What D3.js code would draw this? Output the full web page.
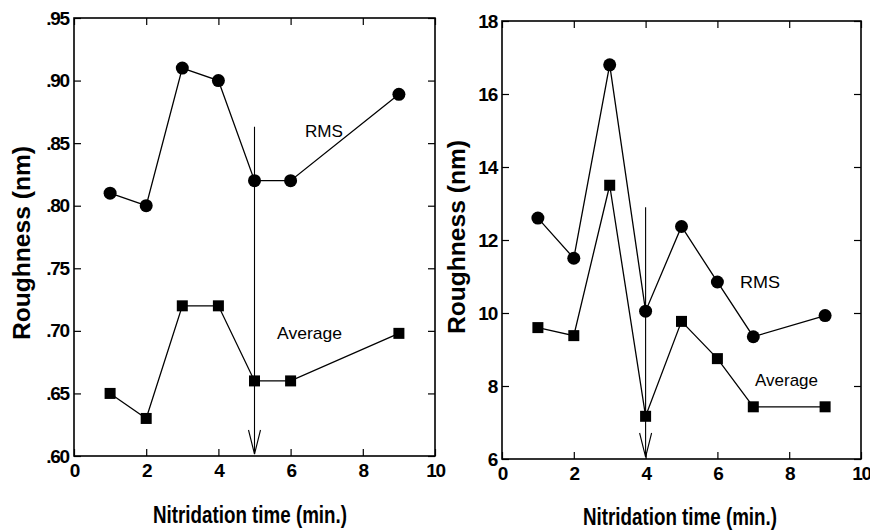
<!DOCTYPE html>
<html>
<head>
<meta charset="utf-8">
<script src="https://cdnjs.cloudflare.com/ajax/libs/d3/7.8.5/d3.min.js"></script>
<style>
  body { margin: 0; background: #fff; }
  svg { display: block; }
  .tick text { font-family: "Liberation Sans", Arial, sans-serif; font-weight: bold; font-size: 19px; letter-spacing: -1.2px; fill: #000; }
  .tick line { stroke: #000; stroke-width: 1.2; }
</style>
</head>
<body>
<div id="chart"></div>
<script>
// left panel (nitridation time vs roughness, small scale)
var leftTimeRms = [1, 2, 3, 4, 5, 6, 9];
var leftRms = [0.81, 0.80, 0.91, 0.90, 0.82, 0.82, 0.889];
var leftTimeAvg = [1, 2, 3, 4, 5, 6, 9];
var leftAvg = [0.65, 0.63, 0.72, 0.72, 0.66, 0.66, 0.698];
var leftYTicks = [0.60, 0.65, 0.70, 0.75, 0.80, 0.85, 0.90, 0.95];
var leftArrow = {x: 5, from: 0.863, to: 0.60};

// right panel
var rightTimeRms = [1, 2, 3, 4, 5, 6, 7, 9];
var rightRms = [12.6, 11.5, 16.8, 10.05, 12.37, 10.85, 9.35, 9.93];
var rightTimeAvg = [1, 2, 3, 4, 5, 6, 7, 9];
var rightAvg = [9.6, 9.38, 13.5, 7.17, 9.77, 8.75, 7.43, 7.43];
var rightYTicks = [6, 8, 10, 12, 14, 16, 18];
var rightArrow = {x: 4, from: 12.9, to: 6};

var xTicks = [0, 2, 4, 6, 8, 10];

var svg = d3.select("#chart").append("svg")
  .attr("width", 870)
  .attr("height", 532);

function panel(cfg) {
  var x = d3.scaleLinear().domain([0, 10]).range([cfg.left, cfg.right]),
      y = d3.scaleLinear().domain(cfg.yDomain).range([cfg.bottom, cfg.top]),
      g = svg.append("g");

  var tk = 7;
  g.append("g")
    .attr("transform", "translate(0," + cfg.bottom + ")")
    .call(d3.axisBottom(x).tickValues(xTicks).tickSize(-tk).tickPadding(8).tickFormat(d3.format("d")))
    .call(function(a) { a.select(".domain").remove(); });
  g.append("g")
    .attr("transform", "translate(0," + cfg.top + ")")
    .call(d3.axisTop(x).tickValues(xTicks).tickSize(-tk).tickFormat(""))
    .call(function(a) { a.select(".domain").remove(); });
  g.append("g")
    .attr("transform", "translate(" + cfg.left + ",0)")
    .call(d3.axisLeft(y).tickValues(cfg.yTicks).tickSize(-tk).tickPadding(cfg.labelPad).tickFormat(cfg.fmt))
    .call(function(a) { a.select(".domain").remove(); });
  g.append("g")
    .attr("transform", "translate(" + cfg.right + ",0)")
    .call(d3.axisRight(y).tickValues(cfg.yTicks).tickSize(-tk).tickFormat(""))
    .call(function(a) { a.select(".domain").remove(); });

  g.append("rect")
    .attr("x", cfg.left).attr("y", cfg.top)
    .attr("width", cfg.right - cfg.left).attr("height", cfg.bottom - cfg.top)
    .attr("fill", "none").attr("stroke", "#000").attr("stroke-width", 1.6);

  // arrow marking the transition time
  var ax = x(cfg.arrow.x), ay0 = y(cfg.arrow.from), ay1 = y(cfg.arrow.to) - 2;
  g.append("line")
    .attr("x1", ax).attr("x2", ax).attr("y1", ay0).attr("y2", ay1)
    .attr("stroke", "#000").attr("stroke-width", 1.1);
  g.append("path")
    .attr("d", "M" + (ax - 6) + "," + (ay1 - 24) + "L" + ax + "," + ay1 + "L" + (ax + 6) + "," + (ay1 - 24))
    .attr("fill", "none").attr("stroke", "#000").attr("stroke-width", 1.1);

  var line = d3.line().x(function(d) { return x(d[0]); }).y(function(d) { return y(d[1]); });
  var rms = d3.zip(cfg.rmsX, cfg.rms), avg = d3.zip(cfg.avgX, cfg.avg);

  g.append("path").datum(rms).attr("d", line)
    .attr("fill", "none").attr("stroke", "#000").attr("stroke-width", 1.3);
  g.append("path").datum(avg).attr("d", line)
    .attr("fill", "none").attr("stroke", "#000").attr("stroke-width", 1.3);

  g.selectAll(".dot").data(rms).enter().append("circle")
    .attr("cx", function(d) { return x(d[0]); })
    .attr("cy", function(d) { return y(d[1]); })
    .attr("r", 6.5).attr("fill", "#000");
  g.selectAll(".sq").data(avg).enter().append("rect")
    .attr("x", function(d) { return x(d[0]) - 5.5; })
    .attr("y", function(d) { return y(d[1]) - 5.5; })
    .attr("width", 11).attr("height", 11).attr("fill", "#000");

  // series labels
  cfg.labels.forEach(function(l) {
    g.append("text")
      .attr("x", l.x).attr("y", l.y)
      .attr("textLength", l.w).attr("lengthAdjust", "spacingAndGlyphs")
      .style("font-family", "'Liberation Sans', Arial, sans-serif")
      .style("font-size", "17px")
      .text(l.t);
  });

  // axis titles
  g.append("text")
    .attr("x", cfg.xTitle[0]).attr("y", cfg.xTitle[1])
    .attr("textLength", 194).attr("lengthAdjust", "spacingAndGlyphs")
    .style("font-family", "'Liberation Sans', Arial, sans-serif")
    .style("font-weight", "bold").style("font-size", "23px")
    .text("Nitridation time (min.)");
  g.append("text")
    .attr("transform", "translate(" + cfg.yTitle[0] + "," + cfg.yTitle[1] + ") rotate(-90)")
    .attr("textLength", 194).attr("lengthAdjust", "spacingAndGlyphs")
    .style("font-family", "'Liberation Sans', Arial, sans-serif")
    .style("font-weight", "bold").style("font-size", "23px")
    .text("Roughness (nm)");
}

panel({
  left: 74, right: 435, top: 18, bottom: 456,
  yDomain: [0.60, 0.95], yTicks: leftYTicks, labelPad: 5,
  fmt: function(d) { return d3.format(".2f")(d).replace(/^0/, ""); },
  rmsX: leftTimeRms, rms: leftRms, avgX: leftTimeAvg, avg: leftAvg,
  arrow: leftArrow,
  labels: [{t: "RMS", x: 305, y: 137, w: 38}, {t: "Average", x: 277, y: 339, w: 65}],
  xTitle: [153, 523], yTitle: [30, 340]
});

panel({
  left: 502, right: 861, top: 21, bottom: 459,
  yDomain: [6, 18], yTicks: rightYTicks, labelPad: 5,
  fmt: d3.format("d"),
  rmsX: rightTimeRms, rms: rightRms, avgX: rightTimeAvg, avg: rightAvg,
  arrow: rightArrow,
  labels: [{t: "RMS", x: 740, y: 288, w: 40}, {t: "Average", x: 755, y: 386, w: 63}],
  xTitle: [583, 525], yTitle: [465, 334]
});
</script>
</body>
</html>
